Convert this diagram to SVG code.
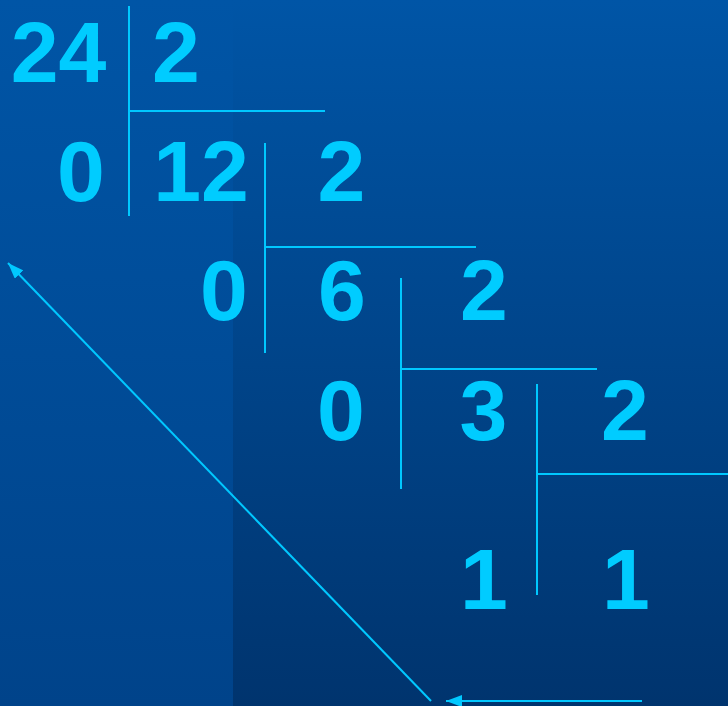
<svg xmlns="http://www.w3.org/2000/svg" width="728" height="706" viewBox="0 0 728 706">
<defs>
<linearGradient id="bg" x1="0" y1="0" x2="0" y2="1">
<stop offset="0" stop-color="#0055A6"/>
<stop offset="1" stop-color="#00346E"/>
</linearGradient>
<linearGradient id="bgl" x1="0" y1="0" x2="0" y2="1">
<stop offset="0" stop-color="#0055A6"/>
<stop offset="1" stop-color="#00438A"/>
</linearGradient>
<marker id="ah" viewBox="0 0 16 12" refX="16" refY="6" markerWidth="16" markerHeight="12" markerUnits="userSpaceOnUse" orient="auto">
<path d="M0,0 L16,6 L0,12 z" fill="#00C8FF"/>
</marker>
<style>
.n{font-family:"Liberation Sans",Arial,sans-serif;font-weight:bold;font-size:86px;fill:#00CCFF;text-anchor:middle}
.l{stroke:#00C8FF;stroke-width:2;fill:none}
</style>
</defs>
<rect width="728" height="706" fill="url(#bg)"/>
<rect width="233" height="706" fill="url(#bgl)"/>
<g id="step1">
<text class="n" x="58.5" y="82">24</text>
<text class="n" x="176" y="82">2</text>
<text class="n" x="81" y="201">0</text>
</g>
<g id="step2">
<text class="n" x="201" y="201">12</text>
<text class="n" x="341.5" y="201">2</text>
<text class="n" x="224" y="320">0</text>
</g>
<g id="step3">
<text class="n" x="342" y="320">6</text>
<text class="n" x="484" y="320">2</text>
<text class="n" x="341" y="440">0</text>
</g>
<g id="step4">
<text class="n" x="483.5" y="440">3</text>
<text class="n" x="625" y="440">2</text>
<text class="n" x="484" y="609">1</text>
<text class="n" x="626" y="609">1</text>
</g>
<g id="connectors">
<path class="l" d="M129,6 V216 M129,111 H325"/>
<path class="l" d="M265,143 V353 M265,247 H476"/>
<path class="l" d="M401,278 V489 M401,369 H597"/>
<path class="l" d="M537,384 V595 M537,474 H728"/>
<line class="l" x1="431" y1="701" x2="8" y2="263" marker-end="url(#ah)"/>
<line class="l" x1="642" y1="701" x2="446" y2="701" marker-end="url(#ah)"/>
</g>
</svg>
